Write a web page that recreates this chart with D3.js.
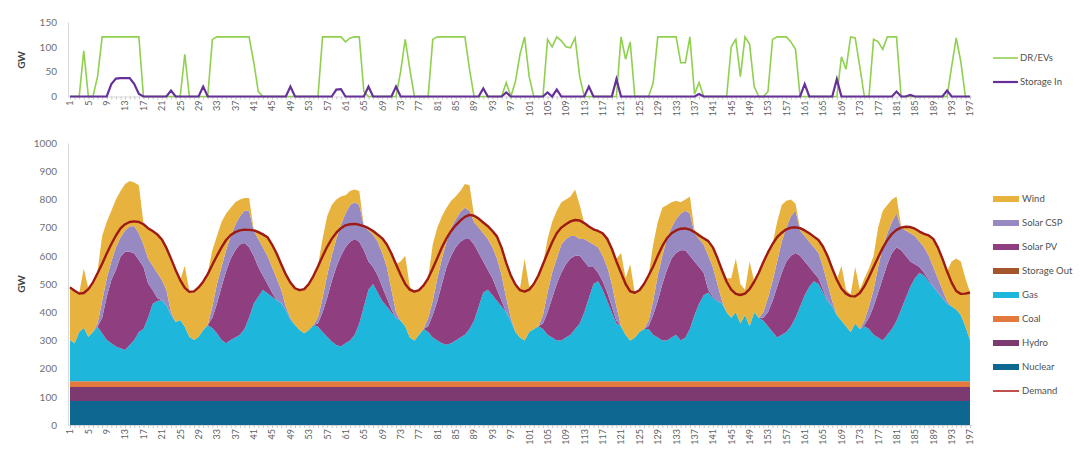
<!DOCTYPE html>
<html>
<head>
<meta charset="utf-8">
<script src="https://cdnjs.cloudflare.com/ajax/libs/d3/7.8.5/d3.min.js"></script>
<style>
  body { margin: 0; background: #fff; }
  text { font-family: Lato, "Open Sans", sans-serif; fill: #595959; }
</style>
</head>
<body>
<div id="chart"></div>
<script>
// heures 1..197 (categories de l'axe x)
const hours = d3.range(1, 198);
const tickHours = [1, 5, 9, 13, 17, 21, 25, 29, 33, 37, 41, 45, 49, 53, 57, 61, 65, 69, 73, 77,
  81, 85, 89, 93, 97, 101, 105, 109, 113, 117, 121, 125, 129, 133, 137, 141, 145, 149, 153, 157,
  161, 165, 169, 173, 177, 181, 185, 189, 193, 197];

// panneau du haut (GW)
const drEvs = [
  0,0,0,92,0,0,40,120,120,120,120,120,120,120,120,120,0,0,0,0,0,0,0,0,
  0,85,0,0,0,0,0,115,120,120,120,120,120,120,120,120,70,10,0,0,0,0,0,0,
  0,0,0,0,0,0,0,120,120,120,120,120,110,118,120,120,10,0,0,0,0,0,0,0,
  50,115,55,0,0,0,0,115,120,120,120,120,120,120,120,55,0,0,0,0,0,0,0,28,
  0,30,85,120,40,0,0,0,115,100,120,112,100,98,118,40,0,0,0,0,0,0,0,0,
  120,75,110,0,0,0,0,27,120,120,120,120,120,68,68,120,5,28,0,0,0,0,0,0,
  100,115,40,120,105,20,0,0,10,115,120,120,120,110,95,0,0,0,0,0,0,0,0,0,
  80,55,120,118,60,0,0,115,110,95,120,120,120,0,0,0,0,0,0,0,0,0,0,0,
  60,118,70,0,0
];
const storageIn = [
  0,0,0,0,0,0,0,0,0,25,36,37,37,37,25,5,0,0,0,0,0,0,12,0,
  0,0,0,0,0,20,0,0,0,0,0,0,0,0,0,0,0,0,0,0,0,0,0,0,
  20,0,0,0,0,0,0,0,0,0,14,15,0,0,0,0,0,20,0,0,0,0,0,20,
  0,0,0,0,0,0,0,0,0,0,0,0,0,0,0,0,0,0,16,0,0,0,0,8,
  0,0,0,0,0,0,0,0,8,0,14,0,0,0,0,0,0,20,0,0,0,0,0,35,
  0,0,0,0,0,0,0,0,0,0,0,0,0,0,0,0,0,5,0,0,0,0,0,0,
  0,0,0,0,0,0,0,0,0,0,0,0,0,0,0,0,25,0,0,0,0,0,0,35,
  0,0,0,0,0,0,0,0,0,0,0,0,10,0,0,3,0,0,0,0,0,0,0,12,
  0,0,0,0,0
];

// panneau du bas (GW), empilement
const nuclear = [
  85,85,85,85,85,85,85,85,85,85,85,85,85,85,85,85,85,85,85,85,85,85,85,85,
  85,85,85,85,85,85,85,85,85,85,85,85,85,85,85,85,85,85,85,85,85,85,85,85,
  85,85,85,85,85,85,85,85,85,85,85,85,85,85,85,85,85,85,85,85,85,85,85,85,
  85,85,85,85,85,85,85,85,85,85,85,85,85,85,85,85,85,85,85,85,85,85,85,85,
  85,85,85,85,85,85,85,85,85,85,85,85,85,85,85,85,85,85,85,85,85,85,85,85,
  85,85,85,85,85,85,85,85,85,85,85,85,85,85,85,85,85,85,85,85,85,85,85,85,
  85,85,85,85,85,85,85,85,85,85,85,85,85,85,85,85,85,85,85,85,85,85,85,85,
  85,85,85,85,85,85,85,85,85,85,85,85,85,85,85,85,85,85,85,85,85,85,85,85,
  85,85,85,85,85
];
const hydro = [
  50,50,50,50,50,50,50,50,50,50,50,50,50,50,50,50,50,50,50,50,50,50,50,50,
  50,50,50,50,50,50,50,50,50,50,50,50,50,50,50,50,50,50,50,50,50,50,50,50,
  50,50,50,50,50,50,50,50,50,50,50,50,50,50,50,50,50,50,50,50,50,50,50,50,
  50,50,50,50,50,50,50,50,50,50,50,50,50,50,50,50,50,50,50,50,50,50,50,50,
  50,50,50,50,50,50,50,50,50,50,50,50,50,50,50,50,50,50,50,50,50,50,50,50,
  50,50,50,50,50,50,50,50,50,50,50,50,50,50,50,50,50,50,50,50,50,50,50,50,
  50,50,50,50,50,50,50,50,50,50,50,50,50,50,50,50,50,50,50,50,50,50,50,50,
  50,50,50,50,50,50,50,50,50,50,50,50,50,50,50,50,50,50,50,50,50,50,50,50,
  50,50,50,50,50
];
const coal = [
  20,20,20,20,20,20,20,20,20,20,20,20,20,20,20,20,20,20,20,20,20,20,20,20,
  20,20,20,20,20,20,20,20,20,20,20,20,20,20,20,20,20,20,20,20,20,20,20,20,
  20,20,20,20,20,20,20,20,20,20,20,20,20,20,20,20,20,20,20,20,20,20,20,20,
  20,20,20,20,20,20,20,20,20,20,20,20,20,20,20,20,20,20,20,20,20,20,20,20,
  20,20,20,20,20,20,20,20,20,20,20,20,20,20,20,20,20,20,20,20,20,20,20,20,
  20,20,20,20,20,20,20,20,20,20,20,20,20,20,20,20,20,20,20,20,20,20,20,20,
  20,20,20,20,20,20,20,20,20,20,20,20,20,20,20,20,20,20,20,20,20,20,20,20,
  20,20,20,20,20,20,20,20,20,20,20,20,20,20,20,20,20,20,20,20,20,20,20,20,
  20,20,20,20,20
];
const gas = [
  146,135,175,190,158,175,193,170,146,135,123,117,111,129,146,175,185,225,275,285,288,270,235,210,
  217,193,158,146,158,182,200,188,170,146,135,146,155,165,185,225,275,300,324,312,300,288,277,253,
  217,200,182,170,182,200,193,175,158,141,129,123,135,145,165,205,265,325,345,315,285,265,245,225,
  215,195,155,145,165,185,175,155,145,135,130,135,145,155,165,185,215,265,315,325,305,285,265,245,
  215,175,155,145,175,185,195,185,165,155,145,145,155,165,185,205,245,295,345,355,325,285,245,205,
  195,165,145,155,175,185,185,165,155,145,145,155,165,145,155,185,235,275,305,315,295,285,275,245,
  225,245,205,235,195,245,225,215,195,175,155,165,175,195,225,265,305,335,355,345,315,285,265,235,
  215,195,175,205,185,195,185,165,155,145,165,185,215,255,295,335,365,385,375,355,335,315,295,275,
  265,255,235,195,145
];
const storageOut = [
  0,0,0,0,0,0,0,0,0,0,0,0,0,0,0,0,0,0,0,0,0,0,0,0,
  0,0,0,0,0,0,0,0,0,0,0,0,0,0,0,0,0,0,0,0,0,0,0,0,
  0,0,0,0,0,0,0,0,0,0,0,0,0,0,0,0,0,0,0,0,0,0,0,0,
  0,0,0,0,0,0,0,0,0,0,0,0,0,0,0,0,0,0,0,0,0,0,0,0,
  0,0,0,0,0,0,0,0,0,0,0,0,0,0,0,0,0,0,0,0,0,0,0,0,
  0,0,0,0,0,0,0,0,0,0,0,0,0,0,0,0,0,0,0,0,0,0,0,0,
  0,0,0,0,0,0,0,0,0,0,0,0,0,0,0,0,0,0,0,0,0,0,0,0,
  0,0,0,0,0,0,0,0,0,0,0,0,0,0,0,0,0,0,0,0,0,0,0,0,
  0,0,0,0,0
];
const solarPV = [
  0,0,0,0,0,0,0,55,154,224,272,325,348,330,307,255,220,123,49,10,0,0,0,0,
  0,0,0,0,0,0,0,37,105,189,255,289,310,320,305,250,170,105,51,33,15,0,0,0,
  0,0,0,0,0,0,12,70,137,214,276,322,340,350,340,290,200,100,60,60,50,30,10,0,
  0,0,0,0,0,0,20,80,140,210,275,310,330,340,340,320,270,190,110,70,60,40,20,0,
  0,0,0,0,0,0,0,20,80,140,200,240,260,270,260,240,180,110,60,30,30,30,20,10,
  0,0,0,0,0,0,10,70,130,200,250,280,290,320,310,260,190,130,80,10,5,0,0,0,
  0,0,0,0,0,0,0,10,50,110,180,220,250,250,230,180,120,70,30,20,10,0,0,0,
  0,0,0,0,0,5,40,100,160,220,250,270,260,210,150,90,50,20,10,5,0,0,0,0,
  0,0,0,0,0
];
const solarCSP = [
  0,0,0,0,0,0,12,60,65,66,80,68,76,91,97,95,80,87,86,90,71,54,10,0,
  0,0,0,0,0,0,0,40,70,70,75,80,90,100,115,130,90,100,100,100,90,77,48,12,
  8,0,0,0,0,0,20,50,80,90,100,110,120,130,130,130,85,110,115,120,120,110,70,20,
  0,0,0,0,0,0,30,50,80,90,90,100,100,105,110,100,80,90,100,110,110,110,90,50,
  10,0,0,0,0,0,0,30,70,90,90,100,90,80,70,60,80,90,80,90,90,90,80,50,
  0,0,0,0,0,0,20,50,90,100,110,110,120,130,140,150,100,100,100,120,105,60,10,0,
  0,0,0,0,0,0,0,20,50,70,90,110,120,140,150,90,90,90,90,90,80,60,20,0,
  0,0,0,0,0,15,40,60,90,110,110,110,120,80,90,100,100,90,90,85,70,50,30,10,
  0,0,0,0,0
];
const wind = [
  189,188,138,210,171,178,185,230,200,180,170,165,165,160,155,170,75,110,125,140,146,151,190,185,
  142,217,161,175,177,173,185,200,170,160,130,100,80,60,45,45,5,30,50,68,80,90,92,116,
  128,133,143,159,163,175,185,210,210,180,140,100,65,50,45,50,0,8,13,25,52,80,128,170,
  210,250,180,174,158,155,140,200,180,150,120,95,80,75,85,90,22,32,38,45,58,78,98,125,
  150,168,175,290,160,160,180,180,190,180,170,150,140,140,165,120,56,54,54,58,80,100,130,170,
  260,200,270,160,150,160,160,200,190,170,120,90,65,40,40,60,10,20,25,52,70,92,120,120,
  140,190,140,90,230,110,160,178,162,132,140,130,95,60,25,8,20,30,38,46,72,98,115,125,
  195,130,132,200,140,150,135,120,140,130,100,80,60,5,15,24,28,38,50,72,100,110,110,105,
  160,180,190,170,170
];
const demand = [
  488,476,466,468,482,506,538,572,608,642,672,697,712,720,722,720,712,698,688,676,658,628,590,550,
  514,486,472,474,488,508,535,568,600,630,656,674,684,690,693,692,690,684,676,666,640,608,570,534,
  505,485,478,482,500,528,562,598,632,660,682,698,708,712,713,710,705,698,688,675,662,640,608,570,
  533,500,480,473,478,495,520,555,592,630,662,688,708,725,738,745,742,732,718,705,688,668,628,575,
  530,498,478,473,480,500,530,570,610,648,680,700,712,722,727,725,716,704,694,688,680,660,625,580,
  540,500,474,469,478,500,530,562,600,635,662,680,690,696,697,693,684,672,662,652,630,592,548,508,
  480,465,461,466,482,508,540,578,612,642,666,682,694,700,701,698,690,680,668,656,632,598,555,515,
  484,466,457,456,468,492,525,560,595,628,656,678,692,700,703,702,696,686,678,672,660,630,590,545,
  505,475,465,466,470
];

const sources = [
  { key: "nuclear", name: "Nuclear", values: nuclear, color: "#0d6790" },
  { key: "hydro", name: "Hydro", values: hydro, color: "#7c3a70" },
  { key: "coal", name: "Coal", values: coal, color: "#e3793d" },
  { key: "gas", name: "Gas", values: gas, color: "#1fb6db" },
  { key: "storageOut", name: "Storage Out", values: storageOut, color: "#a5552c" },
  { key: "pv", name: "Solar PV", values: solarPV, color: "#8f3e7f" },
  { key: "csp", name: "Solar CSP", values: solarCSP, color: "#978ac3" },
  { key: "wind", name: "Wind", values: wind, color: "#e7b23e" }
];

const width = 1085, height = 456;
const svg = d3.select("#chart").append("svg").attr("width", width).attr("height", height);

const x = d3.scalePoint().domain(hours).range([70, 970]);
const yTop = d3.scaleLinear().domain([0, 150]).range([96.5, 22]);
const yBot = d3.scaleLinear().domain([0, 1000]).range([425, 143]);

// ---- axes
function drawXAxis(y0) {
  // petites graduations a chaque heure
  svg.append("g")
    .attr("transform", `translate(0, ${y0})`)
    .call(d3.axisBottom(x).tickValues(hours).tickSize(3).tickFormat(""))
    .call((g) => g.selectAll("line").attr("stroke", "#c8c8c8"))
    .call((g) => g.select(".domain").attr("stroke", "#d9d9d9").attr("d", `M68,0.5H972`));
  svg.append("g")
    .attr("transform", `translate(0, ${y0})`)
    .call(d3.axisBottom(x).tickValues(tickHours).tickSize(0))
    .call((g) => g.select(".domain").remove())
    .selectAll("text")
    .attr("x", -4)
    .attr("y", 0)
    .attr("dy", "0.32em")
    .attr("transform", "rotate(-90)")
    .style("text-anchor", "end")
    .style("font-size", "9px")
    .style("fill", "#606060");
}

function drawYAxis(scale, ticks) {
  svg.append("g")
    .attr("transform", "translate(68, 0)")
    .call(d3.axisLeft(scale).tickValues(ticks).tickSize(0).tickPadding(11).tickFormat(d3.format("d")))
    .call((g) => g.select(".domain").attr("stroke", "#d9d9d9"))
    .selectAll("text")
    .style("font-size", "10px")
    .style("fill", "#707070");
}

function gwLabel(cy) {
  svg.append("text")
    .attr("transform", `translate(25, ${cy}) rotate(-90)`)
    .attr("text-anchor", "middle")
    .style("font-size", "10px")
    .style("font-weight", "bold")
    .style("fill", "#404040")
    .text("GW");
}

// ---- panneau du haut
drawYAxis(yTop, [0, 50, 100, 150]);
gwLabel(60);
drawXAxis(96.5);

const topLine = (vals) => d3.line()
  .x((d, i) => x(hours[i]))
  .y((d) => yTop(d))(vals);

svg.append("path").attr("d", topLine(drEvs))
  .attr("fill", "none").attr("stroke", "#8fd04e").attr("stroke-width", 1.6);
svg.append("path").attr("d", topLine(storageIn))
  .attr("fill", "none").attr("stroke", "#66309a").attr("stroke-width", 2.2);

const topLegend = [
  { name: "DR/EVs", color: "#8fd04e", w: 1.6, y: 58 },
  { name: "Storage In", color: "#66309a", w: 2.2, y: 82 }
];
const tl = svg.append("g").selectAll("g").data(topLegend).join("g")
  .attr("transform", (d) => `translate(993, ${d.y})`);
tl.append("line").attr("x1", 0).attr("x2", 25)
  .attr("stroke", (d) => d.color).attr("stroke-width", (d) => d.w);
tl.append("text").attr("x", 27).attr("dy", "0.35em")
  .style("font-size", "9.5px").style("fill", "#505050").text((d) => d.name);

// ---- panneau du bas
drawYAxis(yBot, d3.range(0, 1001, 100));
gwLabel(284);

const table = hours.map((h, i) => {
  const row = { hour: h };
  sources.forEach((s) => (row[s.key] = s.values[i]));
  return row;
});

const layers = d3.stack().keys(sources.map((s) => s.key))(table);

const area = d3.area()
  .x((d) => x(d.data.hour))
  .y0((d) => yBot(d[0]))
  .y1((d) => yBot(d[1]));

svg.append("g").selectAll("path").data(layers).join("path")
  .attr("d", area)
  .attr("fill", (d, i) => sources[i].color);

svg.append("path")
  .attr("d", d3.line().x((d, i) => x(hours[i])).y((d) => yBot(d))(demand))
  .attr("fill", "none")
  .attr("stroke", "#9e1a14")
  .attr("stroke-width", 2.4)
  .attr("stroke-linejoin", "round");

drawXAxis(425);

const botLegend = sources.slice().reverse().map((s) => ({ name: s.name, color: s.color, line: false }))
  .concat([{ name: "Demand", color: "#c0504d", line: true }]);
const bl = svg.append("g").selectAll("g").data(botLegend).join("g")
  .attr("transform", (d, i) => `translate(993, ${199 + i * 24})`);
bl.append("rect")
  .attr("x", 0).attr("width", 26)
  .attr("y", (d) => (d.line ? -1 : -3)).attr("height", (d) => (d.line ? 2 : 6))
  .attr("fill", (d) => d.color);
bl.append("text").attr("x", 29).attr("dy", "0.35em")
  .style("font-size", "9.5px").style("fill", "#505050").text((d) => d.name);
</script>
</body>
</html>
